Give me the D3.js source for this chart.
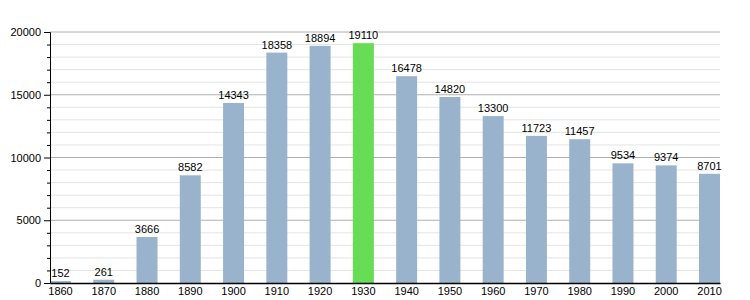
<!DOCTYPE html>
<html>
<head>
<meta charset="utf-8">
<script src="https://cdn.jsdelivr.net/npm/d3@7"></script>
<style>
body { margin: 0; background: #fff; }
text { font-family: "Liberation Sans", Arial, sans-serif; }
</style>
</head>
<body>
<div id="chart-area"></div>
<script>
// data
let years = ["1860","1870","1880","1890","1900","1910","1920","1930","1940","1950","1960","1970","1980","1990","2000","2010"];
let population = [152, 261, 3666, 8582, 14343, 18358, 18894, 19110, 16478, 14820, 13300, 11723, 11457, 9534, 9374, 8701];
let highlightYear = "1930";
let yTicks = [0, 5000, 10000, 15000, 20000];

let svg = d3.select("#chart-area").append("svg")
	.attr("width", 750)
	.attr("height", 300);

let x = d3.scaleBand()
	.domain(years)
	.range([50, 720])
	.paddingInner(0.515)
	.paddingOuter(0);

let y = d3.scaleLinear()
	.domain([0, 20000])
	.range([283, 32]);

// grid, minor then major
svg.append("g")
	.selectAll("line")
	.data(d3.range(1000, 20001, 1000).filter(d => d % 5000 !== 0))
	.enter().append("line")
	.attr("x1", 50).attr("x2", 720)
	.attr("y1", d => y(d)).attr("y2", d => y(d))
	.attr("stroke", "#e4e4e4")
	.attr("stroke-width", 1);

svg.append("g")
	.selectAll("line")
	.data(yTicks.filter(d => d > 0))
	.enter().append("line")
	.attr("x1", 50).attr("x2", 720)
	.attr("y1", d => y(d)).attr("y2", d => y(d))
	.attr("stroke", "#b0b0b0")
	.attr("stroke-width", 1);

// bars
svg.append("g")
	.selectAll("rect")
	.data(population)
	.enter().append("rect")
	.attr("x", (d, i) => x(years[i]))
	.attr("y", d => y(d))
	.attr("width", x.bandwidth())
	.attr("height", d => y(0) - y(d))
	.attr("fill", (d, i) => years[i] === highlightYear ? "#66dd55" : "#9ab3cc");

// value labels
svg.append("g")
	.selectAll("text")
	.data(population)
	.enter().append("text")
	.attr("x", (d, i) => x(years[i]) + x.bandwidth() / 2)
	.attr("y", d => y(d) - 4)
	.attr("text-anchor", "middle")
	.attr("font-size", 11)
	.attr("fill", "#000")
	.text(d => d);

// y axis
let yAxis = d3.axisLeft(y)
	.tickValues(yTicks)
	.tickSize(6)
	.tickFormat(d3.format("d"));

let yAxisGroup = svg.append("g")
	.attr("transform", "translate(50,0)")
	.call(yAxis);
yAxisGroup.select(".domain").attr("stroke", "#000");
yAxisGroup.selectAll(".tick text").attr("font-size", 11).attr("font-family", "Liberation Sans, Arial, sans-serif");

let yMinor = d3.axisLeft(y)
	.tickValues(d3.range(1000, 20000, 1000).filter(d => d % 5000 !== 0))
	.tickSize(3)
	.tickFormat("");
svg.append("g")
	.attr("transform", "translate(50,0)")
	.call(yMinor)
	.select(".domain").remove();

// x axis
let xAxis = d3.axisBottom(x)
	.tickSize(0)
	.tickPadding(4);

let xAxisGroup = svg.append("g")
	.attr("transform", "translate(0,283)")
	.call(xAxis);
xAxisGroup.select(".domain").attr("stroke", "#000").attr("stroke-width", 1.5);
xAxisGroup.selectAll(".tick text").attr("font-size", 11).attr("font-family", "Liberation Sans, Arial, sans-serif");
</script>
</body>
</html>
